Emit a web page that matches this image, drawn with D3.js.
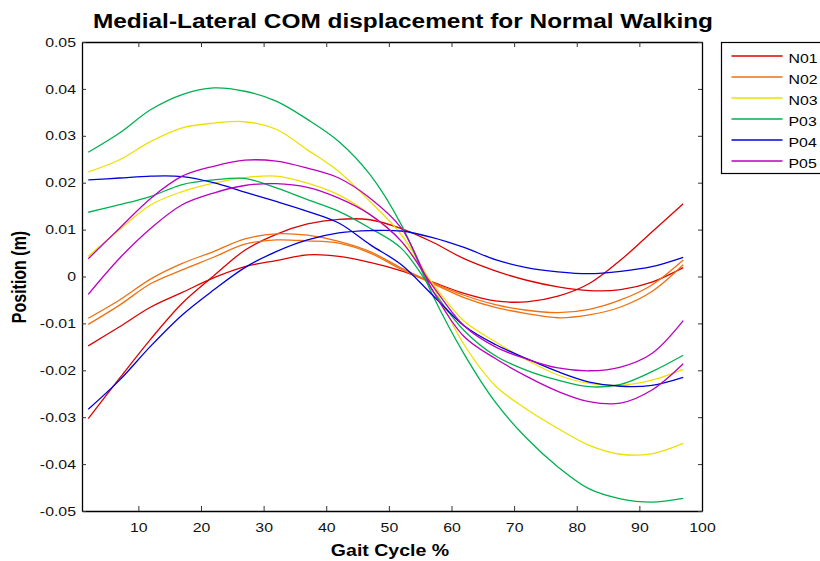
<!DOCTYPE html>
<html>
<head>
<meta charset="utf-8">
<script src="https://cdn.jsdelivr.net/npm/d3@7"></script>
<style>
  body { margin: 0; background: #fff; }
  text { font-family: "Liberation Sans", Arial, sans-serif; }
</style>
</head>
<body>
<svg id="chart" width="820" height="561"></svg>
<script>
// gait cycle samples (%)
const gait = [2, 7, 12, 17, 22, 27, 32, 37, 42, 47, 52, 57, 62, 67, 72, 77, 82, 87, 92, 97];

// two trials per subject, medial-lateral COM position (m)
const N01_1 = [-0.0148, -0.0107, -0.0065, -0.0034, -0.0003, 0.0021, 0.0034, 0.0046, 0.0043, 0.0030, 0.0012, -0.0012, -0.0036, -0.0052, -0.0054, -0.0042, -0.0015, 0.0035, 0.0095, 0.0155];
const N01_2 = [-0.0303, -0.0217, -0.0133, -0.0057, 0.0001, 0.0056, 0.0090, 0.0112, 0.0122, 0.0121, 0.0102, 0.0073, 0.0038, 0.0012, -0.0008, -0.0022, -0.0030, -0.0028, -0.0012, 0.0019];
const N02_1 = [-0.0089, -0.0050, -0.0005, 0.0028, 0.0053, 0.0080, 0.0091, 0.0088, 0.0075, 0.0053, 0.0018, -0.0013, -0.0040, -0.0060, -0.0072, -0.0077, -0.0070, -0.0050, -0.0018, 0.0035];
const N02_2 = [-0.0102, -0.0061, -0.0015, 0.0014, 0.0041, 0.0069, 0.0078, 0.0076, 0.0071, 0.0050, 0.0015, -0.0015, -0.0045, -0.0066, -0.0079, -0.0088, -0.0082, -0.0065, -0.0032, 0.0025];
const N03_1 = [0.0223, 0.0249, 0.0288, 0.0317, 0.0327, 0.0330, 0.0314, 0.0270, 0.0224, 0.0160, 0.0089, -0.0020, -0.0145, -0.0233, -0.0283, -0.0324, -0.0360, -0.0379, -0.0378, -0.0356];
const N03_2 = [0.0043, 0.0100, 0.0153, 0.0181, 0.0199, 0.0211, 0.0214, 0.0199, 0.0174, 0.0132, 0.0075, -0.0015, -0.0095, -0.0139, -0.0178, -0.0210, -0.0228, -0.0232, -0.0221, -0.0198];
const P03_1 = [0.0265, 0.0306, 0.0356, 0.0388, 0.0402, 0.0395, 0.0374, 0.0335, 0.0288, 0.0217, 0.0110, -0.0040, -0.0165, -0.0268, -0.0345, -0.0406, -0.0453, -0.0474, -0.0481, -0.0473];
const P03_2 = [0.0137, 0.0153, 0.0171, 0.0196, 0.0206, 0.0209, 0.0189, 0.0164, 0.0139, 0.0103, 0.0060, -0.0030, -0.0115, -0.0169, -0.0200, -0.0221, -0.0235, -0.0230, -0.0203, -0.0168];
const P04_1 = [0.0206, 0.0210, 0.0214, 0.0213, 0.0200, 0.0180, 0.0160, 0.0139, 0.0114, 0.0068, 0.0025, -0.0040, -0.0105, -0.0145, -0.0175, -0.0203, -0.0225, -0.0234, -0.0232, -0.0215];
const P04_2 = [-0.0283, -0.0221, -0.0148, -0.0082, -0.0029, 0.0019, 0.0053, 0.0078, 0.0093, 0.0098, 0.0097, 0.0083, 0.0062, 0.0036, 0.0019, 0.0010, 0.0006, 0.0011, 0.0021, 0.0041];
const P05_1 = [0.0038, 0.0103, 0.0167, 0.0214, 0.0235, 0.0248, 0.0246, 0.0231, 0.0210, 0.0167, 0.0103, -0.0030, -0.0128, -0.0175, -0.0213, -0.0245, -0.0267, -0.0270, -0.0242, -0.0186];
const P05_2 = [-0.0038, 0.0039, 0.0103, 0.0153, 0.0178, 0.0194, 0.0198, 0.0190, 0.0167, 0.0132, 0.0075, -0.0020, -0.0105, -0.0150, -0.0176, -0.0195, -0.0201, -0.0193, -0.0164, -0.0094];

const subjects = ["N01", "N02", "N03", "P03", "P04", "P05"];
const colors = ["#dd0000", "#f07010", "#eee000", "#00b050", "#0000dd", "#bb00c0"];
const xTicks = [10, 20, 30, 40, 50, 60, 70, 80, 90, 100];
const yTicks = [-0.05, -0.04, -0.03, -0.02, -0.01, 0, 0.01, 0.02, 0.03, 0.04, 0.05];

const trials = [
  [N01_1, N01_2], [N02_1, N02_2], [N03_1, N03_2],
  [P03_1, P03_2], [P04_1, P04_2], [P05_1, P05_2]
];

let margin = {top: 42, left: 82},
  width = 620,
  height = 469;
const stretch = 1.22; // reference text is drawn a bit wide

let svg = d3.select("#chart");
let g = svg.append("g")
  .attr("transform", "translate(" + margin.left + "," + margin.top + ")");

let x = d3.scaleLinear().domain([1, 100]).range([0, width]);
let y = d3.scaleLinear().domain([-0.05, 0.05]).range([height, 0]);

function widen(sel) {
  sel.each(function() {
    let w = this.getComputedTextLength();
    d3.select(this).attr("textLength", w * stretch).attr("lengthAdjust", "spacingAndGlyphs");
  });
}

let line = d3.line()
  .x(function(d, i) { return x(gait[i]); })
  .y(function(d) { return y(d); })
  .curve(d3.curveCatmullRom.alpha(0.5));

subjects.forEach(function(s, k) {
  trials[k].forEach(function(t) {
    g.append("path")
      .datum(t)
      .attr("fill", "none")
      .attr("stroke", colors[k])
      .attr("stroke-width", 1.3)
      .attr("d", line);
  });
});

// axes, ticks pointing inward like matlab
let fmt = function(d) { return d === 0 ? "0" : d.toFixed(2); };

let xb = g.append("g")
  .attr("transform", "translate(0," + height + ")")
  .call(d3.axisBottom(x).tickValues(xTicks).tickSizeInner(-5).tickSizeOuter(0).tickPadding(12));
g.append("g")
  .call(d3.axisTop(x).tickValues(xTicks).tickSizeInner(-5).tickSizeOuter(0).tickFormat(""));
let yl = g.append("g")
  .call(d3.axisLeft(y).tickValues(yTicks).tickSizeInner(-4).tickSizeOuter(0).tickPadding(6).tickFormat(fmt));
g.append("g")
  .attr("transform", "translate(" + width + ",0)")
  .call(d3.axisRight(y).tickValues(yTicks).tickSizeInner(-4).tickSizeOuter(0).tickFormat(""));

g.selectAll(".domain").attr("stroke", "#000").attr("stroke-width", 1.3);
g.selectAll(".tick line").attr("stroke", "#333");
[xb, yl].forEach(function(a) {
  a.attr("font-size", 13).attr("font-family", null);
  a.selectAll("text").attr("fill", "#111").call(widen);
});

// title and axis labels
svg.append("text")
  .attr("x", 403).attr("y", 28)
  .attr("text-anchor", "middle")
  .attr("font-size", 20).attr("font-weight", "bold")
  .text("Medial-Lateral COM displacement for Normal Walking")
  .call(widen);

svg.append("text")
  .attr("x", 390).attr("y", 556)
  .attr("text-anchor", "middle")
  .attr("font-size", 16).attr("font-weight", "bold")
  .text("Gait Cycle %")
  .call(widen);

svg.append("text")
  .attr("transform", "translate(26,277) scale(" + stretch + ",1) rotate(-90)")
  .attr("text-anchor", "middle")
  .attr("font-size", 16).attr("font-weight", "bold")
  .text("Position (m)");

// legend
let legend = svg.append("g").attr("transform", "translate(721.5,42.5)");
legend.append("rect")
  .attr("width", 130).attr("height", 131)
  .attr("fill", "#fff").attr("stroke", "#000").attr("stroke-width", 1.2);
subjects.forEach(function(s, k) {
  let row = legend.append("g").attr("transform", "translate(0," + (13.5 + 21 * k) + ")");
  row.append("line")
    .attr("x1", 10).attr("x2", 61)
    .attr("stroke", colors[k]).attr("stroke-width", 1.5);
  row.append("text")
    .attr("x", 67).attr("y", 6.5)
    .attr("font-size", 13)
    .text(s)
    .call(widen);
});
</script>
</body>
</html>
